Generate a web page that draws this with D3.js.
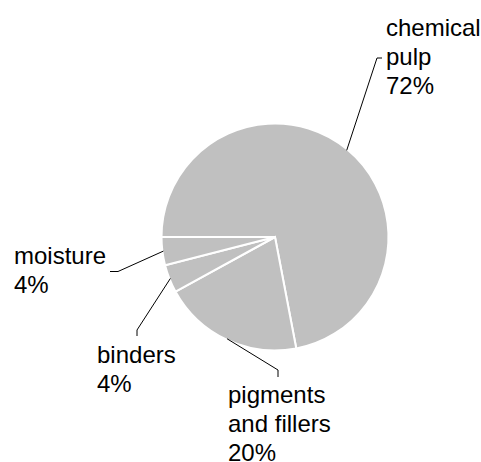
<!DOCTYPE html>
<html>
<head>
<meta charset="utf-8">
<script src="https://cdn.jsdelivr.net/npm/d3@7"></script>
<style>
  html, body { margin: 0; padding: 0; background: #fff; }
  svg { display: block; }
  .slice { fill: #c0c0c0; stroke: #fff; stroke-width: 2; }
  .leader { fill: none; stroke: #000; stroke-width: 1; }
  .label { font-family: "Liberation Sans", Arial, sans-serif; font-size: 24px; fill: #000; }
</style>
</head>
<body>
<div id="chart"></div>
<script>
  // composition of the paper, in percent
  const categories = ["chemical pulp", "pigments and fillers", "binders", "moisture"];
  const values = [72, 20, 4, 4];
  const labelLines = [
    ["chemical", "pulp", "72%"],
    ["pigments", "and fillers", "20%"],
    ["binders", "4%"],
    ["moisture", "4%"]
  ];

  const width = 481;
  const height = 462;
  const cx = 275;
  const cy = 237;
  const radius = 113.5;
  const lineHeight = 29;

  // where each label sits, and the elbow + tick of its leader line
  const labelLayout = {
    "chemical pulp": { x: 386, y: 36, elbow: [377, 58], tick: [382, 58] },
    "pigments and fillers": { x: 228, y: 403, elbow: [278, 370], tick: [278, 377] },
    "binders": { x: 97, y: 363, elbow: [137, 330], tick: [137, 336] },
    "moisture": { x: 14, y: 264, elbow: [118, 271.5], tick: [110, 271.5] }
  };

  const data = categories.map((name, i) => ({ name, value: values[i], lines: labelLines[i] }));

  const svg = d3.select("#chart").append("svg")
    .attr("width", width)
    .attr("height", height);

  const pie = d3.pie()
    .sort(null)
    .value(d => d.value)
    .startAngle(-Math.PI / 2)
    .endAngle(Math.PI * 1.5);

  const arc = d3.arc().innerRadius(0).outerRadius(radius);
  const edgeArc = d3.arc().innerRadius(radius - 1).outerRadius(radius - 1);

  const arcs = pie(data);
  const g = svg.append("g").attr("transform", `translate(${cx},${cy})`);

  g.selectAll("path.slice")
    .data(arcs)
    .join("path")
    .attr("class", "slice")
    .attr("d", arc);

  const line = d3.line();

  arcs.forEach(a => {
    const layout = labelLayout[a.data.name];
    const edge = edgeArc.centroid(a);
    const start = [cx + edge[0], cy + edge[1]];
    svg.append("path")
      .attr("class", "leader")
      .attr("d", line([start, layout.elbow, layout.tick]));

    const label = svg.append("text")
      .attr("class", "label")
      .attr("x", layout.x)
      .attr("y", layout.y);
    a.data.lines.forEach((t, i) => {
      label.append("tspan")
        .attr("x", layout.x)
        .attr("dy", i === 0 ? 0 : lineHeight)
        .text(t);
    });
  });
</script>
</body>
</html>
